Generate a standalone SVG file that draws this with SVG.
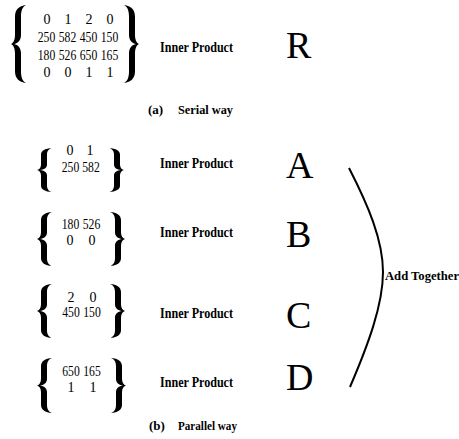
<svg xmlns="http://www.w3.org/2000/svg" width="459" height="439" viewBox="0 0 459 439">
<defs>
<style>
.n{font-family:"Liberation Serif","Times New Roman",serif;font-size:14px;fill:#000;text-anchor:middle}
.ip{font-family:"Liberation Serif","Times New Roman",serif;font-size:14px;font-weight:bold;fill:#000}
.big{font-family:"Liberation Serif","Times New Roman",serif;font-size:38px;fill:#000}
.cap{font-family:"Liberation Serif","Times New Roman",serif;font-size:13px;font-weight:bold;fill:#000}
.br{fill:#000}
.conn{fill:none;stroke:#000;stroke-width:2}
</style>
<path id="lb" d="M15,0 C8,1 4,6 4,15 L4,38 C4,45 2,49 0,50 C2,51 4,55 4,62 L4,85 C4,94 8,99 15,100 C12,98 10,94 10,85 L10,62 C10,55 7,51 3,50 C7,49 10,45 10,38 L10,15 C10,6 12,2 15,0 Z"/>
</defs>
<rect width="459" height="439" fill="#fff"/>

<g id="matrix-serial">
<use href="#lb" class="br" transform="translate(11,5) scale(1,0.78)"/>
<use href="#lb" class="br" transform="translate(139,5) scale(-1,0.78)"/>
<text class="n" x="47" y="23.5">0</text><text class="n" x="68" y="23.5">1</text><text class="n" x="89" y="23.5">2</text><text class="n" x="110" y="23.5">0</text>
<text class="n" x="46.5" y="41.5" textLength="17.5" lengthAdjust="spacingAndGlyphs">250</text><text class="n" x="67.5" y="41.5" textLength="17.5" lengthAdjust="spacingAndGlyphs">582</text><text class="n" x="88.5" y="41.5" textLength="17.5" lengthAdjust="spacingAndGlyphs">450</text><text class="n" x="109.5" y="41.5" textLength="17.5" lengthAdjust="spacingAndGlyphs">150</text>
<text class="n" x="46.5" y="59.5" textLength="17.5" lengthAdjust="spacingAndGlyphs">180</text><text class="n" x="67.5" y="59.5" textLength="17.5" lengthAdjust="spacingAndGlyphs">526</text><text class="n" x="88.5" y="59.5" textLength="17.5" lengthAdjust="spacingAndGlyphs">650</text><text class="n" x="109.5" y="59.5" textLength="17.5" lengthAdjust="spacingAndGlyphs">165</text>
<text class="n" x="47" y="77">0</text><text class="n" x="68" y="77">0</text><text class="n" x="89" y="77">1</text><text class="n" x="110" y="77">1</text>
</g>
<g id="ip-serial"><text class="ip" x="160" y="51.5" textLength="73" lengthAdjust="spacingAndGlyphs">Inner Product</text></g>
<g id="result-R"><text class="big" x="286" y="58">R</text></g>
<g id="caption-a"><text class="cap" x="148" y="114">(a)</text><text class="cap" x="178" y="114" textLength="55" lengthAdjust="spacingAndGlyphs">Serial way</text></g>

<g id="matrix-A">
<use href="#lb" class="br" transform="translate(37,148) scale(1,0.44)"/>
<use href="#lb" class="br" transform="translate(124,148) scale(-1,0.44)"/>
<text class="n" x="70" y="155">0</text><text class="n" x="90" y="155">1</text>
<text class="n" x="70.5" y="172" textLength="17.5" lengthAdjust="spacingAndGlyphs">250</text><text class="n" x="91" y="172" textLength="17.5" lengthAdjust="spacingAndGlyphs">582</text>
</g>
<g id="ip-A"><text class="ip" x="160" y="168" textLength="73" lengthAdjust="spacingAndGlyphs">Inner Product</text></g>
<g id="result-A"><text class="big" x="286" y="178">A</text></g>

<g id="matrix-B">
<use href="#lb" class="br" transform="translate(37,212) scale(1,0.54)"/>
<use href="#lb" class="br" transform="translate(125,212) scale(-1,0.54)"/>
<text class="n" x="70.5" y="229" textLength="17.5" lengthAdjust="spacingAndGlyphs">180</text><text class="n" x="91.5" y="229" textLength="17.5" lengthAdjust="spacingAndGlyphs">526</text>
<text class="n" x="70" y="245">0</text><text class="n" x="92" y="245">0</text>
</g>
<g id="ip-B"><text class="ip" x="160" y="237" textLength="73" lengthAdjust="spacingAndGlyphs">Inner Product</text></g>
<g id="result-B"><text class="big" x="286" y="247">B</text></g>

<g id="matrix-C">
<use href="#lb" class="br" transform="translate(37,284) scale(1,0.54)"/>
<use href="#lb" class="br" transform="translate(125,284) scale(-1,0.54)"/>
<text class="n" x="71" y="302">2</text><text class="n" x="93" y="302">0</text>
<text class="n" x="71" y="317" textLength="17.5" lengthAdjust="spacingAndGlyphs">450</text><text class="n" x="92" y="317" textLength="17.5" lengthAdjust="spacingAndGlyphs">150</text>
</g>
<g id="ip-C"><text class="ip" x="160" y="318" textLength="73" lengthAdjust="spacingAndGlyphs">Inner Product</text></g>
<g id="result-C"><text class="big" x="286" y="328">C</text></g>

<g id="matrix-D">
<use href="#lb" class="br" transform="translate(37,358) scale(1,0.55)"/>
<use href="#lb" class="br" transform="translate(126,358) scale(-1,0.55)"/>
<text class="n" x="71" y="376" textLength="17.5" lengthAdjust="spacingAndGlyphs">650</text><text class="n" x="92" y="376" textLength="17.5" lengthAdjust="spacingAndGlyphs">165</text>
<text class="n" x="71" y="392">1</text><text class="n" x="93" y="392">1</text>
</g>
<g id="ip-D"><text class="ip" x="160" y="387" textLength="73" lengthAdjust="spacingAndGlyphs">Inner Product</text></g>
<g id="result-D"><text class="big" x="286" y="390">D</text></g>

<g id="caption-b"><text class="cap" x="149" y="430">(b)</text><text class="cap" x="178" y="430" textLength="59" lengthAdjust="spacingAndGlyphs">Parallel way</text></g>

<g id="connectors">
<path class="conn" d="M349,168 C368,205 383,240 383,272 C383,305 368,345 350,387"/>
</g>
<g id="add-together"><text class="ip" style="font-size:12px" x="385" y="280" textLength="74" lengthAdjust="spacingAndGlyphs">Add Together</text></g>
</svg>
